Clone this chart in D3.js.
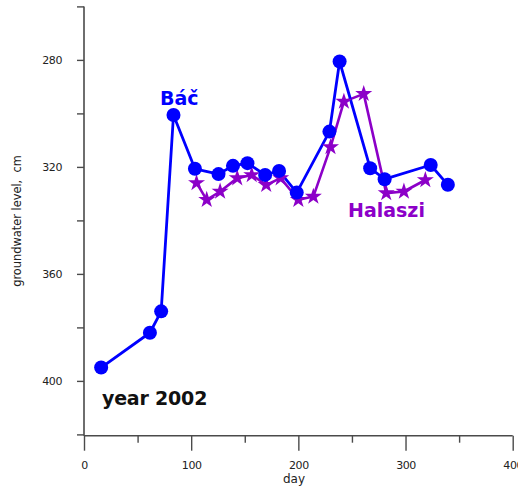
<!DOCTYPE html>
<html>
<head>
<meta charset="utf-8">
<script src="https://cdn.jsdelivr.net/npm/d3@7"></script>
<style>
  html, body { margin: 0; padding: 0; background: #fff; }
  svg { display: block; }
  .tick text { font-family: "DejaVu Sans", Verdana, sans-serif; font-size: 11px; fill: #222; letter-spacing: -0.4px; }
</style>
</head>
<body>
<svg id="chart" width="518" height="489"></svg>
<script>
// Groundwater level (cm below surface), year 2002
const bacDays   = [16, 61.5, 72, 83.5, 103.5, 125.5, 139, 152.5, 169, 182, 198.5, 229, 238.5, 267, 280.5, 323.5, 339.5];
const bacLevels = [395, 382, 374, 300.6, 320.7, 322.7, 319.6, 318.6, 323, 321.5, 329.6, 306.8, 280.6, 320.5, 324.6, 319.3, 326.7];

const halDays   = [105, 114.5, 127, 143, 156.5, 170, 183.5, 200, 214, 230, 242.5, 261, 282, 298.5, 318.5];
const halLevels = [326, 332.3, 329.2, 324.2, 323, 326.7, 324.2, 332.3, 331.1, 312.6, 295.6, 292.7, 329.8, 329.2, 324.9];

const yTicks      = [260, 280, 300, 320, 340, 360, 380, 400, 420];
const yTickLabels = [280, 320, 360, 400];
const xTicks      = [0, 50, 100, 150, 200, 250, 300, 350, 400];
const xTickLabels = [0, 100, 200, 300, 400];

const svg = d3.select("#chart");
const axisColor = "#4a4a4a";
const blue = "#0000ff";
const purple = "#8c00c8";

const x = d3.scaleLinear().domain([0, 400]).range([84, 512.7]);
const y = d3.scaleLinear().domain([260, 420]).range([6.4, 434.4]);

// Y axis (depth increases downward)
const yAxis = d3.axisLeft(y)
  .tickValues(yTicks)
  .tickSize(7)
  .tickPadding(15)
  .tickFormat(d => yTickLabels.includes(d) ? d : "");
const gy = svg.append("g").attr("transform", `translate(${x(0)},0)`).call(yAxis);
gy.select(".domain").attr("stroke", axisColor).attr("stroke-width", 1.6).attr("d", `M0,${y(260)}V${y(420) + 1.3}`);
gy.selectAll(".tick line").attr("stroke", axisColor).attr("stroke-width", 1.4);
gy.selectAll(".tick text").attr("dy", "0.35em");

// X axis
const xAxis = d3.axisBottom(x)
  .tickValues(xTicks)
  .tickSize(7)
  .tickFormat(d => xTickLabels.includes(d) ? d : "");
const gx = svg.append("g").attr("transform", `translate(0,${y(420) + 1.3})`).call(xAxis);
gx.select(".domain").attr("stroke", axisColor).attr("stroke-width", 1.6).attr("d", `M${x(0)},0H${x(400)}`);
gx.selectAll(".tick line")
  .attr("stroke", axisColor).attr("stroke-width", 1.4)
  .attr("y2", d => xTickLabels.includes(d) ? 15 : 7);
gx.selectAll(".tick text").attr("y", 33).attr("dy", 0);

// Axis titles
svg.append("text")
  .attr("x", 294).attr("y", 483)
  .attr("text-anchor", "middle")
  .style("font-family", "DejaVu Sans, Verdana, sans-serif")
  .style("font-size", "12px").style("fill", "#222")
  .text("day");

svg.append("text")
  .attr("transform", "translate(20.5,221) rotate(-90)")
  .attr("text-anchor", "middle")
  .style("font-family", "DejaVu Sans, Verdana, sans-serif")
  .style("font-size", "11.4px").style("fill", "#222")
  .style("white-space", "pre")
  .text("groundwater level,  cm");

// Series
const line = d3.line().x(d => x(d[0])).y(d => y(d[1]));
const bac = bacDays.map((d, i) => [d, bacLevels[i]]);
const hal = halDays.map((d, i) => [d, halLevels[i]]);

svg.append("path").datum(hal)
  .attr("fill", "none").attr("stroke", purple).attr("stroke-width", 2.6)
  .attr("stroke-linejoin", "round").attr("d", line);

svg.append("path").datum(bac)
  .attr("fill", "none").attr("stroke", blue).attr("stroke-width", 2.8)
  .attr("stroke-linejoin", "round").attr("d", line);

const star = d3.symbol().type(d3.symbolStar).size(90);
svg.append("g").selectAll("path").data(hal).join("path")
  .attr("transform", d => `translate(${x(d[0])},${y(d[1])})`)
  .attr("d", star)
  .attr("fill", purple);

svg.append("g").selectAll("circle").data(bac).join("circle")
  .attr("cx", d => x(d[0])).attr("cy", d => y(d[1]))
  .attr("r", 7)
  .attr("fill", blue);

// Labels
const bold = sel => sel
  .style("font-family", "DejaVu Sans, Verdana, sans-serif")
  .style("font-weight", "bold")
  .style("font-size", "19px");

svg.append("text").attr("x", 160).attr("y", 105).call(bold)
  .style("fill", blue).text("Báč");
svg.append("text").attr("x", 348).attr("y", 217).call(bold)
  .style("fill", purple).text("Halaszi");
svg.append("text").attr("x", 102).attr("y", 405).call(bold)
  .style("fill", "#111").style("letter-spacing", "-0.2px").text("year 2002");
</script>
</body>
</html>
